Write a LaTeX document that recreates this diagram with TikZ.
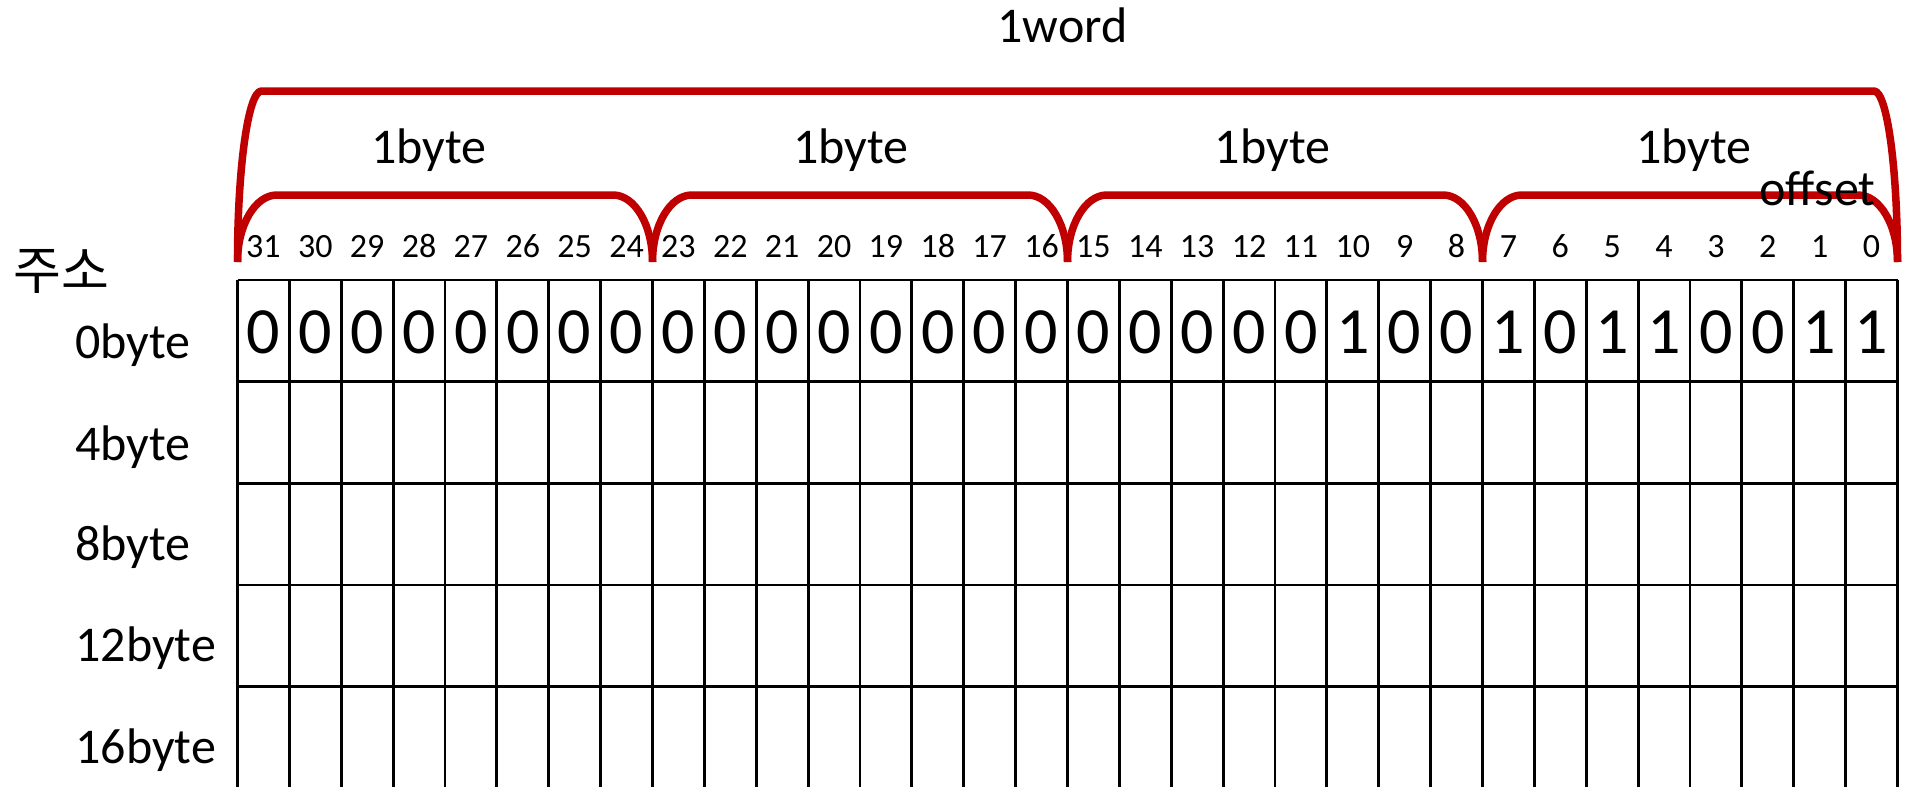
\documentclass[tikz,border=0pt]{standalone}
\usepackage{fontspec}
\setmainfont{Carlito}
\newfontfamily\krfont{Noto Sans CJK KR}
\definecolor{bracketred}{HTML}{C00000}
\begin{document}
\begin{tikzpicture}[x=0.5pt,y=-0.5pt,
  bitnum/.style={font=\fontsize{17}{20}\selectfont, inner sep=0pt, anchor=base},
  bitval/.style={font=\fontsize{33}{40}\selectfont, inner sep=0pt, anchor=base},
  lbl/.style={font=\fontsize{25}{30}\selectfont, inner sep=0pt, anchor=base},
  rowlbl/.style={font=\fontsize{25}{30}\selectfont, inner sep=0pt, anchor=base west},
  gridline/.style={line width=1.4pt, black},
  brace/.style={line width=3.75pt, draw=bracketred, line cap=butt, line join=round}]
\useasboundingbox (0,0) rectangle (1906,787);
% grid
\foreach \i in {0,...,32}
  \draw[gridline] ({237.5+\i*51.875},280) -- ({237.5+\i*51.875},787);
\foreach \y in {280,381.7,483.3,585,686.5}
  \draw[gridline] (237.5,\y) -- (1897.5,\y);
% brackets
\draw[brace] (237.5,262) .. controls (237.5,167.6) and (248.2,91) .. (261.5,91)
  -- (1874,91) .. controls (1887,91) and (1897.5,167.6) .. (1897.5,262);
\foreach \k in {0,1,2,3}{
  \pgfmathsetmacro\xa{237.5+415*\k}
  \pgfmathsetmacro\xb{\xa+415}
  \draw[brace] (\xa,262) .. controls (\xa,225) and ({\xa+17.7},195) .. ({\xa+39.5},195)
    -- ({\xb-39.5},195) .. controls ({\xb-17.7},195) and (\xb,225) .. (\xb,262);
}
% bit numbers and values
\foreach \v [count=\c from 0] in {0,0,0,0,0,0,0,0, 0,0,0,0,0,0,0,0, 0,0,0,0,0,1,0,0, 1,0,1,1,0,0,1,1}{
  \pgfmathtruncatemacro\b{31-\c}
  \node[bitnum] (n\b) at ({237.5+(\c+0.5)*51.875},257) {\b};
  \node[bitval] (v\b) at ({237.5+(\c+0.5)*51.875},353.3) {\v};
}
% row labels
\foreach \t/\y [count=\r from 0] in {0byte/358, 4byte/460, 8byte/560, 12byte/661.7, 16byte/763}
  \node[rowlbl] (row\r) at (75,\y) {\t};
% labels
\node[lbl] (word) at (1062.5,42.7) {1word};
\node[lbl] (byteA) at (429,163) {1byte};
\node[lbl] (byteB) at (851,163) {1byte};
\node[lbl] (byteC) at (1272.5,163) {1byte};
\node[lbl] (byteD) at (1694,163) {1byte};
\node[lbl] (offset) at (1817.5,205) {offset};
\node[font=\krfont\fontsize{26}{30}\selectfont, inner sep=0pt] (addr) at (61,271) {주소};
\end{tikzpicture}
\end{document}
